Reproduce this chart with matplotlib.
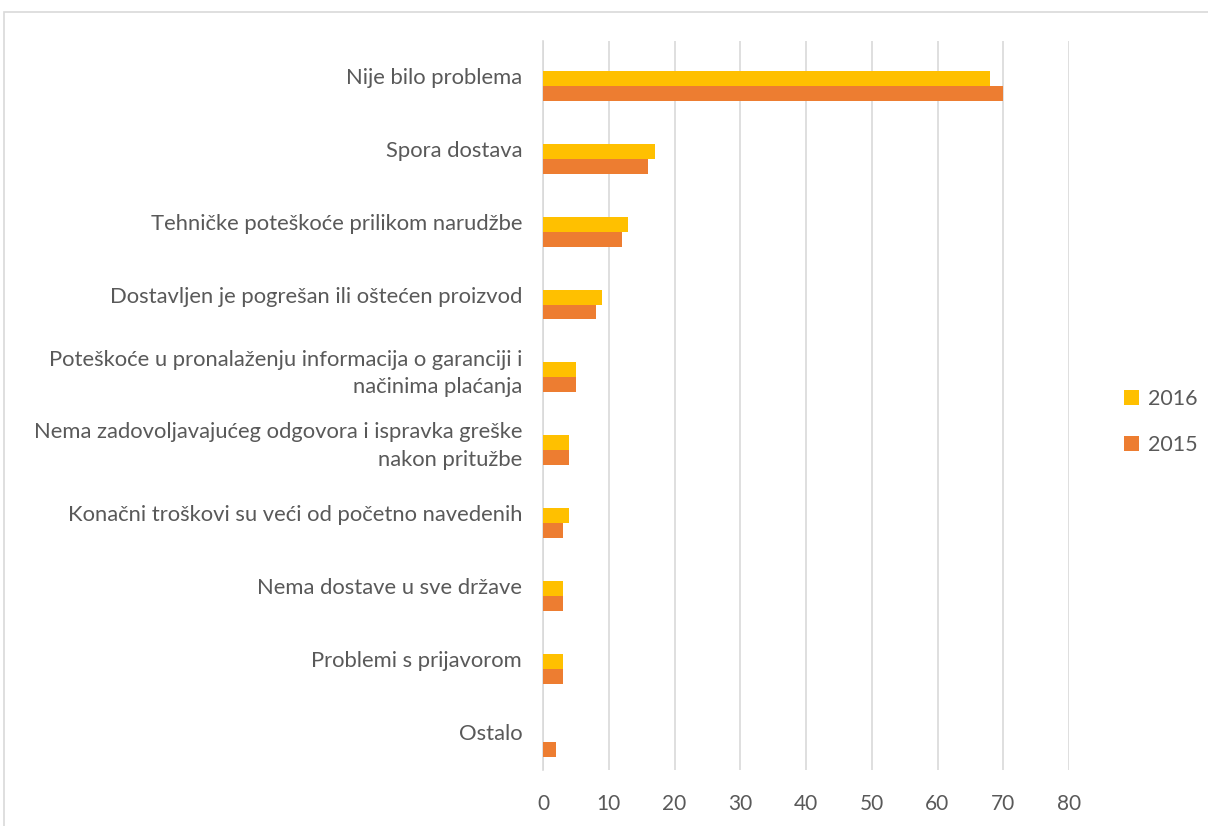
import numpy as np
import matplotlib.pyplot as plt
from matplotlib.patches import Rectangle

categories = [
    "Nije bilo problema",
    "Spora dostava",
    "Tehničke poteškoće prilikom narudžbe",
    "Dostavljen je pogrešan ili oštećen proizvod",
    "Poteškoće u pronalaženju informacija o garanciji i\nnačinima plaćanja",
    "Nema zadovoljavajućeg odgovora i ispravka greške\nnakon pritužbe",
    "Konačni troškovi su veći od početno navedenih",
    "Nema dostave u sve države",
    "Problemi s prijavorom",
    "Ostalo",
]
vals_2016 = [68, 17, 13, 9, 5, 4, 4, 3, 3, 0]
vals_2015 = [70, 16, 12, 8, 5, 4, 3, 3, 3, 2]
x_ticks = [0, 10, 20, 30, 40, 50, 60, 70, 80]

plt.rcParams['font.family'] = ['Lato', 'DejaVu Sans']

fig = plt.figure(figsize=(12.08, 8.26), dpi=100)
ax = fig.add_axes([543 / 1208, 1 - 770 / 826, (1069 - 543) / 1208, (770 - 41) / 826])

# outer chart border like the Excel frame
fig.patches.append(Rectangle((4 / 1208, -0.1), 1.2, 1 - 12 / 826 + 0.1,
                             transform=fig.transFigure, fill=False,
                             edgecolor='#D9D9D9', linewidth=1.2))

y = np.arange(len(categories))
h = 0.205
off = 0.135  # bars sit a little below the label centre in the original
ax.barh(y + off - h / 2, vals_2016, height=h, color='#FFC000', label='2016', zorder=3)
ax.barh(y + off + h / 2, vals_2015, height=h, color='#ED7D31', label='2015', zorder=3)

ax.set_xlim(0, 80)
ax.set_ylim(len(categories) - 0.5 + 0.02, -0.5 + 0.02)
ax.set_xticks(x_ticks)
ax.set_yticks(y)
ax.set_yticklabels(categories, fontsize=15.8, color='#595959', linespacing=1.45)
ax.tick_params(axis='y', length=0, pad=15)
ax.tick_params(axis='x', length=0, pad=17, labelsize=15, labelcolor='#595959')

ax.grid(axis='x', color='#D9D9D9', linewidth=1.2, zorder=0)
for s in ['top', 'right', 'bottom']:
    ax.spines[s].set_visible(False)
ax.spines['left'].set_color('#D9D9D9')
ax.spines['left'].set_linewidth(1.2)

leg = fig.legend(loc='center left', bbox_to_anchor=(1105 / 1208, 1 - 422 / 826),
                 frameon=False, fontsize=15.5, handlelength=0.7, handleheight=0.7,
                 handletextpad=0.4, labelspacing=1.2, labelcolor='#595959')

fig.savefig('out.png', dpi=100)
